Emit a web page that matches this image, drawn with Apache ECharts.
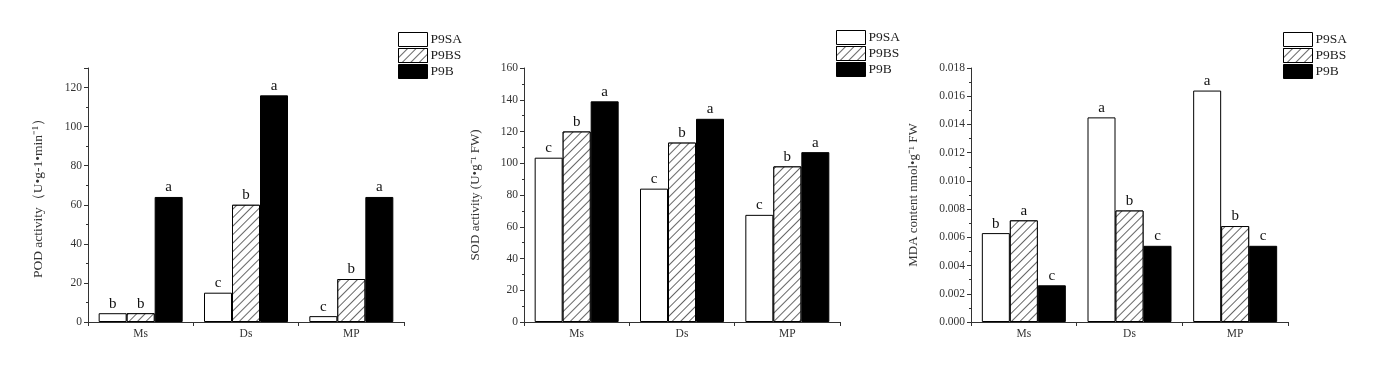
<!DOCTYPE html>
<html><head><meta charset="utf-8">
<script src="https://cdn.jsdelivr.net/npm/echarts@6/dist/echarts.min.js"></script>
<style>html,body{margin:0;padding:0;background:#fff}#c{width:1392px;height:368px}</style>
</head><body><div id="c"></div>
<script>
const categories = ['Ms', 'Ds', 'MP'];
const seriesNames = ['P9SA', 'P9BS', 'P9B'];
// Panel 1: POD
const podP9SA = [4.5, 15, 3];
const podP9BS = [4.5, 60, 22];
const podP9B = [64, 116, 64];
const podLetters = [['b','c','c'], ['b','b','b'], ['a','a','a']];
// Panel 2: SOD
const sodP9SA = [103.5, 84, 67.5];
const sodP9BS = [120, 113, 98];
const sodP9B = [139, 128, 107];
const sodLetters = [['c','c','c'], ['b','b','b'], ['a','a','a']];
// Panel 3: MDA
const mdaP9SA = [0.0063, 0.0145, 0.0164];
const mdaP9BS = [0.0072, 0.0079, 0.0068];
const mdaP9B = [0.0026, 0.0054, 0.0054];
const mdaLetters = [['b','a','a'], ['a','b','b'], ['c','c','c']];
const yNames = ['POD activity（U•g-1•min⁻¹）', 'SOD activity (U•g⁻¹ FW)', 'MDA content nmol•g⁻¹ FW'];

const FONT = '"Liberation Serif", "Times New Roman", serif';
const chart = echarts.init(document.getElementById('c'));

const grids = [
  {left: 88, top: 68, width: 316, height: 254},
  {left: 524, top: 68, width: 316, height: 254},
  {left: 971, top: 68, width: 317, height: 254}
];
const yCfg = [
  {max: 130, interval: 20, nameGap: 43, nameSize: 13.5, fmt: v => (v % 20 === 0 ? String(v) : '')},
  {max: 160, interval: 20, nameGap: 42, nameSize: 13, fmt: v => String(v)},
  {max: 0.018, interval: 0.002, nameGap: 51, nameSize: 13, fmt: v => v.toFixed(3)}
];
const panelData = [[podP9SA, podP9BS, podP9B], [sodP9SA, sodP9BS, sodP9B], [mdaP9SA, mdaP9BS, mdaP9B]];
const panelLetters = [podLetters, sodLetters, mdaLetters];
const legendPos = [{left: 398, top: 32}, {left: 836, top: 30}, {left: 1283, top: 32}];

const axisLine = {show: true, lineStyle: {color: '#333', width: 1}};
const hatch = {symbol: 'rect', symbolSize: 1, color: '#666', backgroundColor: '#fff', dashArrayX: [1, 0], dashArrayY: [1, 4.5], rotation: -Math.PI / 4};
const styles = [
  {color: '#fff', borderColor: '#000', borderWidth: 1},
  {color: '#fff', borderColor: '#000', borderWidth: 1, decal: hatch},
  {color: '#000', borderColor: '#000', borderWidth: 1}
];

const xAxis = [], yAxis = [], series = [], legend = [];
for (let p = 0; p < 3; p++) {
  xAxis.push({
    type: 'category', gridIndex: p, data: categories,
    axisLine, axisTick: {show: true, length: 4, lineStyle: {color: '#333'}},
    axisLabel: {fontFamily: FONT, fontSize: 11.5, color: '#333', margin: 6}
  });
  yAxis.push({
    type: 'value', gridIndex: p, min: 0, max: yCfg[p].max, interval: yCfg[p].interval,
    name: yNames[p], nameLocation: 'middle', nameRotate: 90, nameGap: yCfg[p].nameGap,
    nameTextStyle: {fontFamily: FONT, fontSize: yCfg[p].nameSize, color: '#333'},
    axisLine, splitLine: {show: false},
    axisTick: {show: true, length: 4, lineStyle: {color: '#333'}},
    minorTick: {show: true, splitNumber: 2, length: 2, lineStyle: {color: '#333'}},
    axisLabel: {fontFamily: FONT, fontSize: 11.5, color: '#333', margin: 6, formatter: yCfg[p].fmt}
  });
  for (let s = 0; s < 3; s++) {
    const letters = panelLetters[p][s];
    series.push({
      type: 'bar', name: seriesNames[s], xAxisIndex: p, yAxisIndex: p,
      data: panelData[p][s], barWidth: 28, barGap: '0%',
      itemStyle: styles[s],
      label: {show: true, position: 'top', distance: 2, fontFamily: FONT, fontSize: 15, color: '#111',
        formatter: pr => letters[pr.dataIndex]},
      silent: true, animation: false
    });
  }
  legend.push({
    left: legendPos[p].left, top: legendPos[p].top, orient: 'vertical', padding: 0,
    itemWidth: 29, itemHeight: 14, itemGap: 1, icon: 'rect',
    textStyle: {fontFamily: FONT, fontSize: 13.5, color: '#222', padding: [0, 0, 0, -2]},
    data: seriesNames.map((n, i) => ({name: n, itemStyle: styles[i]}))
  });
}
chart.setOption({
  animation: false, backgroundColor: '#fff',
  grid: grids, xAxis, yAxis, series, legend
});
</script></body></html>
